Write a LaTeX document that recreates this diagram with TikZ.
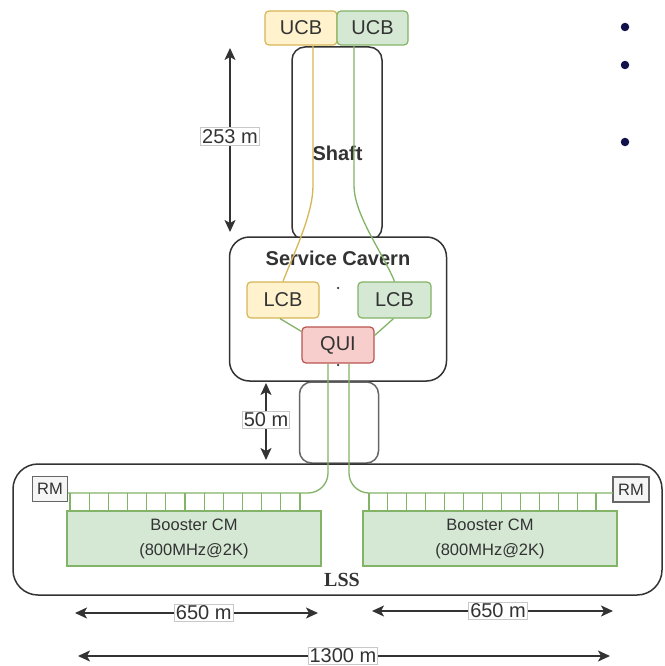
\documentclass[tikz,border=0pt]{standalone}
\usepackage{fontspec}
\setmainfont{Liberation Sans}
\newfontfamily\lssfont{Liberation Serif}
\usetikzlibrary{arrows.meta,calc}
\definecolor{yfill}{HTML}{FFF2CC}
\definecolor{ydraw}{HTML}{D6B656}
\definecolor{gfill}{HTML}{D5E8D4}
\definecolor{gdraw}{HTML}{82B366}
\definecolor{rfill}{HTML}{F8CECC}
\definecolor{rdraw}{HTML}{B85450}
\definecolor{dark}{HTML}{333333}
\definecolor{rmfill}{HTML}{F5F5F5}
\definecolor{rmdraw}{HTML}{666666}
\definecolor{lblbox}{HTML}{C8C8C8}
\definecolor{navy}{HTML}{10104A}
\tikzset{
  ybox/.style={draw=ydraw,fill=yfill,line width=1.2pt,rounded corners=4pt,font=\fontsize{20}{22}\selectfont,text=dark,inner sep=0pt},
  gbox/.style={draw=gdraw,fill=gfill,line width=1.2pt,rounded corners=4pt,font=\fontsize{20}{22}\selectfont,text=dark,inner sep=0pt},
  rbox/.style={draw=rdraw,fill=rfill,line width=1.2pt,rounded corners=4pt,font=\fontsize{20}{22}\selectfont,text=dark,inner sep=0pt},
  hall/.style={draw=dark,fill=white,line width=1.5pt,inner sep=0pt},
  rmbox/.style={draw=rmdraw,fill=rmfill,line width=1.2pt,font=\fontsize{16.5}{18}\selectfont,text=dark,inner sep=0pt},
  module/.style={draw=gdraw,fill=gfill,line width=1.2pt,inner sep=0pt,font=\fontsize{16.5}{25}\selectfont,text=dark,align=center},
  ywire/.style={draw=ydraw,line width=1.3pt},
  gwire/.style={draw=gdraw,line width=1.3pt},
  cellline/.style={draw=gdraw,line width=1.1pt},
  dim/.style={draw=dark,line width=1.5pt,{Stealth[length=12pt,width=11pt,inset=3pt]}-{Stealth[length=12pt,width=11pt,inset=3pt]}},
  dimlbl/.style={fill=white,draw=lblbox,line width=0.6pt,inner sep=1.5pt,font=\fontsize{20}{22}\selectfont,text=dark},
  boldlbl/.style={font=\fontsize{20}{22}\selectfont\bfseries,text=dark,inner sep=0pt},
  bullet/.style={circle,fill=navy,minimum size=8.5pt,inner sep=0pt}
}
\begin{document}
\begin{tikzpicture}[x=1pt,y=-1pt]
\useasboundingbox (0,0) rectangle (664,666);
% shafts and halls
\node[hall,rounded corners=13pt,minimum width=90pt,minimum height=193pt] (shaft) at (337,143.5) {};
\node[hall,rounded corners=20pt,minimum width=217pt,minimum height=144pt] (cavern) at (338,309) {};
\node[hall,draw=rmdraw,rounded corners=12pt,minimum width=79pt,minimum height=81pt] (lshaft) at (339,422.5) {};
\node[hall,rounded corners=25pt,minimum width=649pt,minimum height=131pt] (lss) at (337.5,529.5) {};
% labels
\node[boldlbl] (shaftlbl) at (337.5,153) {Shaft};
\node[boldlbl] (cavlbl) at (338,258) {Service Cavern};
\node[font=\fontsize{20}{22}\selectfont\lssfont\bfseries,text=dark,inner sep=0pt] (lsslbl) at (342,580) {LSS};
% boxes
\node[ybox,minimum width=72pt,minimum height=34pt] (ucbY) at (301,28) {UCB};
\node[gbox,minimum width=71pt,minimum height=34pt] (ucbG) at (372.5,28) {UCB};
\node[ybox,minimum width=72pt,minimum height=36pt] (lcbY) at (283,300) {LCB};
\node[gbox,minimum width=73pt,minimum height=36pt] (lcbG) at (394.5,300) {LCB};
\node[rbox,minimum width=72pt,minimum height=36pt] (qui) at (338,345) {QUI};
\node[rmbox,minimum width=35pt,minimum height=25pt] (rmL) at (50,489) {RM};
\node[rmbox,minimum width=36pt,minimum height=25pt] (rmR) at (631,489.5) {RM};
\node[module,minimum width=254pt,minimum height=55pt] (modL) at (194,538.5) {Booster CM\\(800MHz@2K)};
\node[module,minimum width=254pt,minimum height=55pt] (modR) at (490,538.5) {Booster CM\\(800MHz@2K)};
% tiny dots
\node[circle,fill=dark,minimum size=2.5pt,inner sep=0pt] (dot1) at (338,288) {};
\node[circle,fill=dark,minimum size=2.5pt,inner sep=0pt] (dot2) at (338,365) {};
% wires
\draw[ywire] ([xshift=12pt]ucbY.south) -- ++(0,140) .. controls (313,215) and (293,255) .. (lcbY.north);
\draw[gwire] ([xshift=-18.5pt]ucbG.south) -- ++(0,140) .. controls (354,215) and (384,255) .. (lcbG.north);
\draw[gwire] ([xshift=-3pt]lcbY.south) -- ([yshift=-5pt]qui.north west);
\draw[gwire] ([xshift=-1pt]lcbG.south) -- ([yshift=-9pt]qui.north east);
\coordinate (busL) at (68,493);
\coordinate (busR) at (613,493);
\draw[gwire,rounded corners=20pt] ([xshift=-10pt]qui.south) |- (busL);
\draw[gwire,rounded corners=20pt] ([xshift=11pt]qui.south) |- (busR);
\foreach \i in {0,...,12} {
  \draw[cellline] (70+\i*19.17,493) -- (70+\i*19.17,511);
  \draw[cellline] (369+\i*18.92,493) -- (369+\i*18.92,511);
}
% dimensions
\coordinate (a1) at (230,48); \coordinate (a2) at (230,232);
\draw[dim] (a1) -- node[dimlbl,pos=0.48] (l253) {253 m} (a2);
\coordinate (b1) at (266,383); \coordinate (b2) at (266,460);
\draw[dim] (b1) -- node[dimlbl,pos=0.48] (l50) {50 m} (b2);
\coordinate (c1) at (75,613); \coordinate (c2) at (318,613);
\draw[dim] (c1) -- node[dimlbl,pos=0.53] (l650a) {650 m} (c2);
\coordinate (d1) at (372,611); \coordinate (d2) at (613,611);
\draw[dim] (d1) -- node[dimlbl,pos=0.523] (l650b) {650 m} (d2);
\coordinate (e1) at (78,656); \coordinate (e2) at (610,656);
\draw[dim] (e1) -- node[dimlbl,pos=0.498] (l1300) {1300 m} (e2);
% bullets
\node[bullet] (bu1) at (625,27) {};
\node[bullet] (bu2) at (625,65) {};
\node[bullet] (bu3) at (625,142) {};
\end{tikzpicture}
\end{document}
